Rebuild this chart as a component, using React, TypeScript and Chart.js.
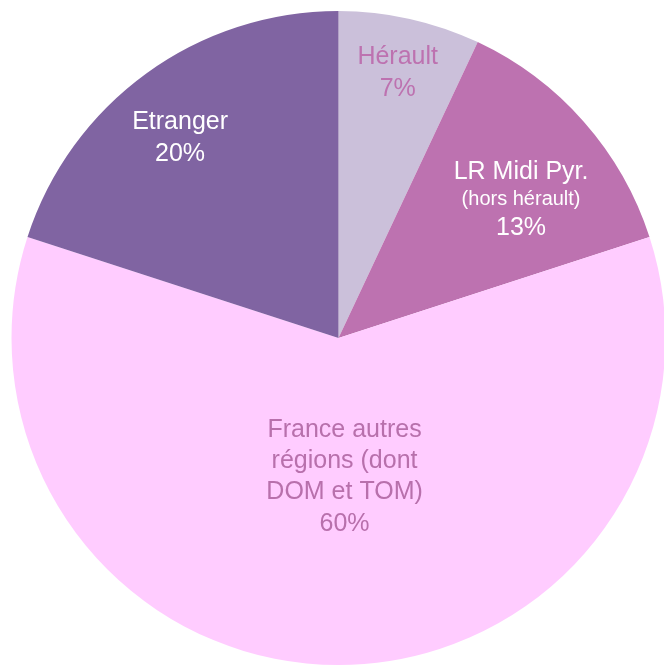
import React, { useEffect, useRef } from "react";
import { Chart, registerables } from "chart.js";

Chart.register(...registerables);

const categories = ["Hérault", "LR Midi Pyr.", "France autres régions (dont DOM et TOM)", "Etranger"];
const values = [7, 13, 60, 20];
const sliceColors = ["#CBC0DA", "#BD72B0", "#FFCCFF", "#8064A2"];
const labelLines = [
  [["Hérault", 25], ["7%", 25]],
  [["LR Midi Pyr.", 25], ["(hors hérault)", 20], ["13%", 25]],
  [["France autres", 25], ["régions (dont", 25], ["DOM et TOM)", 25], ["60%", 25]],
  [["Etranger", 25], ["20%", 25]],
];
const labelColors = ["#BD72B0", "#FFFFFF", "#B870AC", "#FFFFFF"];
const labelRadius = [0.83, 0.7, 0.425, 0.78];
const labelAngleShift = [0, 4.3, -2.5, -2.4];

const labelPlugin = {
  id: "sliceLabels",
  afterDatasetsDraw(chart: any) {
    const ctx = chart.ctx;
    const meta = chart.getDatasetMeta(0);
    meta.data.forEach((arc: any, i: number) => {
      const mid = (arc.startAngle + arc.endAngle) / 2 + (labelAngleShift[i] * Math.PI) / 180;
      const r = arc.outerRadius * labelRadius[i];
      const cx = arc.x + Math.cos(mid) * r;
      const cy = arc.y + Math.sin(mid) * r;
      const lines = labelLines[i] as [string, number][];
      const heights = lines.map(([, s]) => s * 1.25);
      const total = heights.reduce((a, b) => a + b, 0);
      let y = cy - total / 2;
      ctx.save();
      ctx.fillStyle = labelColors[i];
      ctx.textAlign = "center";
      ctx.textBaseline = "middle";
      lines.forEach(([t, s], k) => {
        ctx.font = `${s}px "Liberation Sans", Arial, sans-serif`;
        ctx.fillText(t, cx, y + heights[k] / 2);
        y += heights[k];
      });
      ctx.restore();
    });
  },
};

export default function App() {
  const ref = useRef<HTMLCanvasElement>(null);
  useEffect(() => {
    document.body.style.margin = "0";
    document.body.style.overflow = "hidden";
    const chart = new Chart(ref.current!, {
      type: "pie",
      data: {
        labels: categories,
        datasets: [
          {
            data: values,
            backgroundColor: sliceColors,
            borderWidth: 0,
          },
        ],
      },
      options: {
        responsive: false,
        animation: false,
        layout: { padding: { left: 11, right: 0, top: 11, bottom: 1 } },
        plugins: { legend: { display: false }, tooltip: { enabled: false } },
      },
      plugins: [labelPlugin],
    });
    return () => chart.destroy();
  }, []);
  return (
    <div style={{ width: 664, height: 666, overflow: "hidden", background: "#fff" }}>
      <canvas ref={ref} width={666} height={666} style={{ display: "block" }} />
    </div>
  );
}
